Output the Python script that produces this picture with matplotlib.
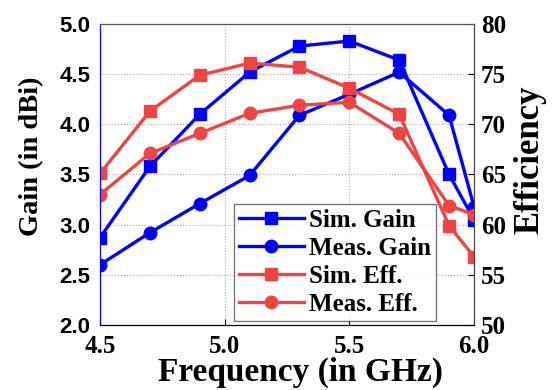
import matplotlib
matplotlib.use("Agg")
import matplotlib.pyplot as plt

# frequency points (GHz)
freq = [4.5, 4.7, 4.9, 5.1, 5.3, 5.5, 5.7, 5.9, 6.0]

# gain in dBi
sim_gain = [2.87, 3.58, 4.10, 4.52, 4.78, 4.83, 4.64, 3.50, 3.05]
meas_gain = [2.60, 2.92, 3.21, 3.49, 4.09, 4.30, 4.52, 4.09, 3.18]

# efficiency in %
sim_eff = [65.1, 71.3, 74.9, 76.1, 75.7, 73.6, 71.0, 59.9, 56.8]
meas_eff = [63.0, 67.1, 69.1, 71.1, 71.9, 72.2, 69.1, 61.9, 61.0]

blue = "#0000FF"
red = "#F04444"
serif = "Liberation Serif"
sans = "Liberation Sans"

fig = plt.figure(figsize=(5.54, 3.90), dpi=100)
ax = fig.add_axes([0.1805, 0.1667, 0.6751, 0.7718])
ax2 = ax.twinx()

l1, = ax.plot(freq, sim_gain, color=blue, lw=2.4, marker="s", ms=8, label="Sim. Gain")
l2, = ax.plot(freq, meas_gain, color=blue, lw=2.4, marker="o", ms=9, label="Meas. Gain")
l3, = ax2.plot(freq, sim_eff, color=red, lw=2.4, marker="s", ms=8, label="Sim. Eff.")
l4, = ax2.plot(freq, meas_eff, color=red, lw=2.4, marker="o", ms=9, label="Meas. Eff.")

ax.set_xlim(4.5, 6.0)
ax.set_ylim(2.0, 5.0)
ax2.set_ylim(50, 80)
ax.set_xticks([4.5, 5.0, 5.5, 6.0])
ax.set_yticks([2.0, 2.5, 3.0, 3.5, 4.0, 4.5, 5.0])
ax2.set_yticks([50, 55, 60, 65, 70, 75, 80])
ax.set_xticklabels(["4.5", "5.0", "5.5", "6.0"], family=serif, weight="bold", fontsize=18)
ax.set_yticklabels(["2.0", "2.5", "3.0", "3.5", "4.0", "4.5", "5.0"],
                   family=sans, weight="bold", fontsize=16)
ax2.set_yticklabels(["50", "55", "60", "65", "70", "75", "80"],
                    family=serif, weight="bold", fontsize=18)

ax.grid(True, ls=":", color="#aaaaaa", lw=0.8)
ax.tick_params(axis="x", direction="in", length=4, pad=7)
ax.tick_params(axis="y", direction="in", length=0, pad=7)
ax2.tick_params(axis="y", direction="in", length=4, pad=5)

ax.spines["left"].set_color(blue)
ax2.spines["left"].set_color(blue)
for a in (ax, ax2):
    a.spines["top"].set_color("#555555")
    a.spines["right"].set_color("#444444")
    a.spines["bottom"].set_color("black")

ax.set_xlabel("Frequency (in GHz)", family=serif, weight="bold", fontsize=24)
ax.xaxis.set_label_coords(0.537, -0.105)
ax.set_ylabel("Gain (in dBi)", family=serif, weight="bold", fontsize=20.5)
ax.yaxis.set_label_coords(-0.150, 0.561)
ax2.set_ylabel("Efficiency", family=serif, weight="bold", fontsize=25)
ax2.yaxis.set_label_coords(1.106, 0.548)

leg = ax2.legend(handles=[l1, l2, l3, l4], loc="lower left",
                 bbox_to_anchor=(0.358, 0.014), frameon=True, fancybox=False,
                 edgecolor="#555555", prop={"family": serif, "weight": "bold", "size": 18},
                 handlelength=2.6, handletextpad=0.2, labelspacing=0.2,
                 borderpad=0.2, borderaxespad=0)
leg.get_frame().set_linewidth(1.0)

fig.savefig("out.png", dpi=100)
